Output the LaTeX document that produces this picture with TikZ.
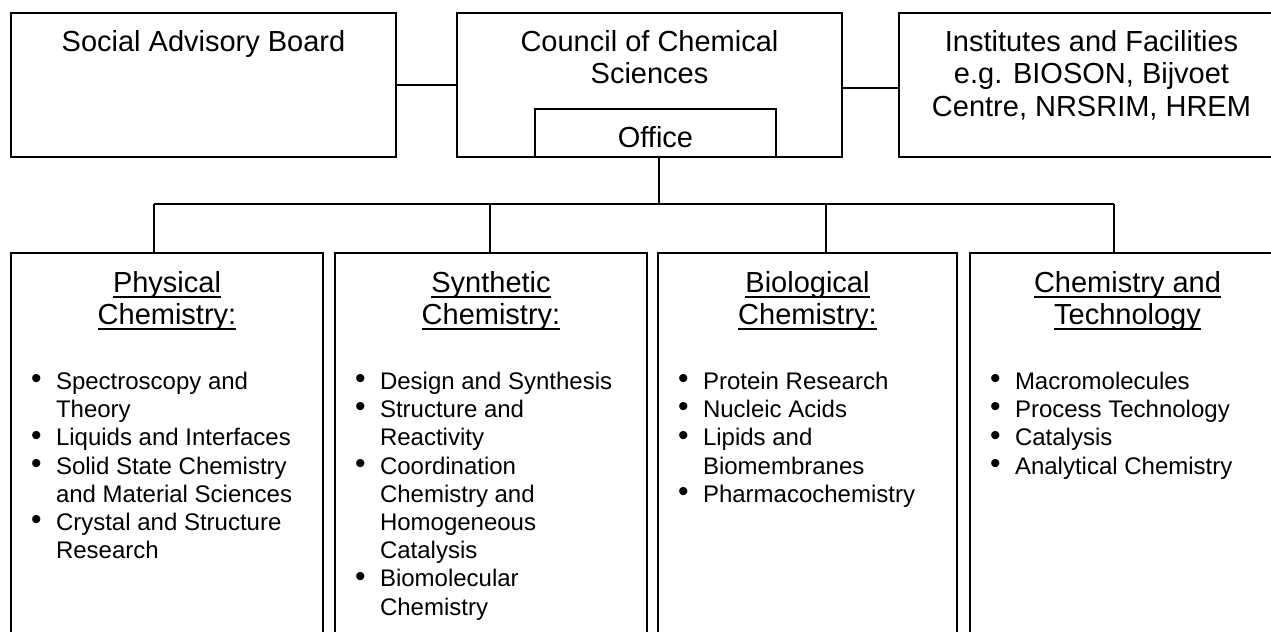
\documentclass[tikz,border=0pt]{standalone}
\usepackage{fontspec}
\setmainfont{Liberation Sans}
\usepackage{tikz}

\newcommand{\hdfont}{\fontsize{14.5}{16.25}\selectfont}
\newcommand{\listfont}{\fontsize{12}{14.1}\selectfont}
\newcommand{\undl}[1]{\leavevmode\setbox0\hbox{#1}\rlap{\rule[-2.85pt]{\wd0}{1pt}}\box0}
\newcommand{\itm}{\par\noindent\llap{\raisebox{0.4pt}{\fontsize{15}{0}\selectfont\textbullet}\hspace{7.2pt}}}
\newcommand{\boxtext}[3]{\parbox[t][#2][t]{#1}{\hdfont\centering\rule{0pt}{19pt}#3}}
\newcommand{\divbox}[4]{\parbox[t][194pt][t]{#1}{\hdfont\centering\rule{0pt}{19.5pt}\undl{#2}\\\undl{#3}\par
  \vspace{18.4pt}\listfont\raggedright\leftskip=22.5pt #4}}

\begin{document}
\begin{tikzpicture}[x=0.5pt,y=-0.5pt,line width=1pt,box/.style={draw,inner sep=0pt,anchor=north west}]
  \clip (0,0) rectangle (1271,632);
  \node[box] (board) at (10,12) {\boxtext{192.5pt}{72pt}{Social Advisory Board}};
  \node[box] (council) at (456,12) {\boxtext{192.5pt}{72pt}{Council of Chemical\\Sciences}};
  \node[box] (office) at (534,108) {\boxtext{120.5pt}{24pt}{Office}};
  \node[box] (inst) at (898,12) {\boxtext{192.5pt}{72pt}{Institutes and Facilities\\e.g. BIOSON, Bijvoet\\Centre, NRSRIM, HREM}};
  \node[box] (phys) at (10,252) {\divbox{156pt}{Physical}{Chemistry:}{%
    \itm Spectroscopy and\\Theory
    \itm Liquids and Interfaces
    \itm Solid State Chemistry\\and Material Sciences
    \itm Crystal and Structure\\Research}};
  \node[box] (synth) at (334,252) {\divbox{156pt}{Synthetic}{Chemistry:}{%
    \itm Design and Synthesis
    \itm Structure and\\Reactivity
    \itm Coordination\\Chemistry and\\Homogeneous\\Catalysis
    \itm Biomolecular\\Chemistry}};
  \node[box] (bio) at (657,252) {\divbox{149.5pt}{Biological}{Chemistry:}{%
    \itm Protein Research
    \itm Nucleic Acids
    \itm Lipids and\\Biomembranes
    \itm Pharmacochemistry}};
  \node[box] (tech) at (969,252) {\divbox{157.5pt}{Chemistry and}{Technology}{%
    \itm Macromolecules
    \itm Process Technology
    \itm Catalysis
    \itm Analytical Chemistry}};
  \coordinate (hub) at ([xshift=1.75pt]office.south |- 0,204);
  \coordinate (d1) at (154,204);
  \coordinate (d2) at (490,204);
  \coordinate (d3) at (826,204);
  \coordinate (d4) at (1114,204);
  \draw (board) -- (council);
  \draw ([yshift=-1.5pt]council.east) -- ([yshift=-1.5pt]inst.west);
  \draw ([xshift=1.75pt]office.south) -- (hub);
  \draw (d1) -- (d4);
  \draw (d1) -- (d1 |- phys.north);
  \draw (d2) -- (d2 |- synth.north);
  \draw (d3) -- (d3 |- bio.north);
  \draw (d4) -- (d4 |- tech.north);
\end{tikzpicture}
\end{document}
